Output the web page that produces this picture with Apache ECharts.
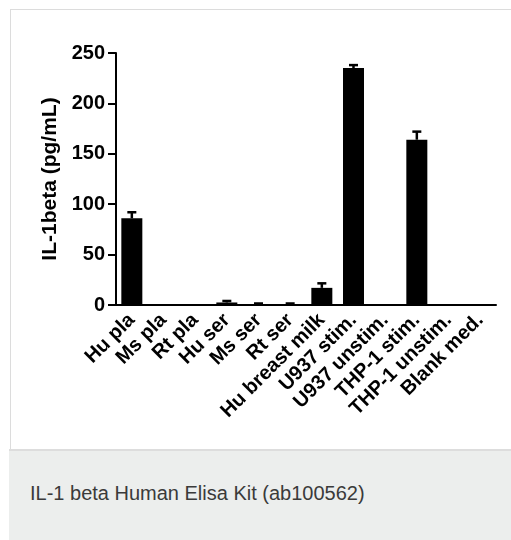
<!DOCTYPE html>
<html>
<head>
<meta charset="utf-8">
<script src="https://cdn.jsdelivr.net/npm/echarts@6/dist/echarts.min.js"></script>
<style>
  html, body { margin: 0; padding: 0; width: 511px; height: 540px; overflow: hidden; background: #fff; }
  #panel { position: absolute; left: 10px; top: 9px; width: 520px; height: 441px; border: 1px solid #dcdcdc; border-right: none; box-sizing: border-box; background: #fff; }
  #caption { position: absolute; left: 9px; top: 449px; width: 520px; height: 100px; background: #eceeed; border-top: 2px solid #dddddd; box-sizing: border-box; }
  #caption span { position: absolute; left: 21px; top: 31px; font-family: "Liberation Sans", Arial, sans-serif; font-size: 20px; color: #3a3a3a; white-space: nowrap; }
  #chart { position: absolute; left: 0; top: 0; width: 511px; height: 540px; }
</style>
</head>
<body>
<div id="panel"></div>
<div id="caption"><span>IL-1 beta Human Elisa Kit (ab100562)</span></div>
<div id="chart"></div>
<script>
const categories = ["Hu pla", "Ms pla", "Rt pla", "Hu ser", "Ms ser", "Rt ser", "Hu breast milk", "U937 stim.", "U937 unstim.", "THP-1 stim.", "THP-1 unstim.", "Blank med."];
const means = [86, 0, 0, 2.5, 0.5, 0.5, 17, 235, 0, 164, 0, 0];
const errors = [6, 0, 0, 1.5, 1, 1, 4.5, 3, 0, 8, 0, 0];
const yTicks = [0, 50, 100, 150, 200, 250];

const chart = echarts.init(document.getElementById('chart'), null, { renderer: 'canvas' });
const font = '"Liberation Sans", Arial, sans-serif';

const errData = categories.map((c, i) => [i, means[i], means[i] + errors[i]]);

chart.setOption({
  animation: false,
  backgroundColor: 'transparent',
  grid: { left: 116, right: 15, top: 53, bottom: 235, containLabel: false },
  xAxis: {
    type: 'category',
    data: categories,
    axisLine: { lineStyle: { color: '#000', width: 2 } },
    axisTick: { alignWithLabel: true, length: 8, lineStyle: { color: '#000', width: 2 } },
    axisLabel: { interval: 0, rotate: 45, fontFamily: font, fontWeight: 'bold', fontSize: 20, color: '#000', margin: 12 }
  },
  yAxis: {
    type: 'value',
    min: yTicks[0], max: yTicks[yTicks.length - 1], interval: 50,
    name: 'IL-1beta (pg/mL)',
    nameLocation: 'middle',
    nameGap: 55,
    nameTextStyle: { fontFamily: font, fontWeight: 'bold', fontSize: 21, color: '#000' },
    axisLine: { show: true, lineStyle: { color: '#000', width: 2 } },
    axisTick: { show: true, length: 8, lineStyle: { color: '#000', width: 2 } },
    axisLabel: { fontFamily: font, fontWeight: 'bold', fontSize: 20, color: '#000', margin: 11 },
    splitLine: { show: false }
  },
  series: [
    {
      type: 'bar',
      data: means,
      barWidth: 21,
      itemStyle: { color: '#000' },
      z: 2
    },
    {
      type: 'custom',
      data: errData,
      z: 3,
      renderItem: function (params, api) {
        const i = api.value(0);
        const lo = api.coord([i, api.value(1)]);
        const hi = api.coord([i, api.value(2)]);
        if (api.value(2) <= 0) return null;
        const half = 4.5;
        const style = { stroke: '#000', lineWidth: 2.5 };
        return {
          type: 'group',
          children: [
            { type: 'line', shape: { x1: lo[0], y1: lo[1], x2: hi[0], y2: hi[1] }, style: style },
            { type: 'line', shape: { x1: hi[0] - half, y1: hi[1], x2: hi[0] + half, y2: hi[1] }, style: style }
          ]
        };
      }
    }
  ]
});
</script>
</body>
</html>
